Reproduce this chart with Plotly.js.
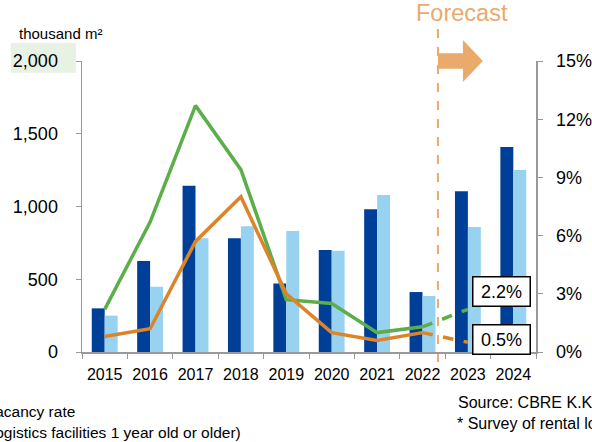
<!DOCTYPE html>
<html>
<head>
<meta charset="utf-8">
<script src="https://cdn.plot.ly/plotly-3.0.1.min.js"></script>
<style>
html,body{margin:0;padding:0;overflow:hidden;background:#fff;}
#chart{width:592px;height:442px;}
</style>
</head>
<body>
<div id="chart"></div>
<script>
// ---- data ----
const years = ['2015','2016','2017','2018','2019','2020','2021','2022','2023','2024'];
const newSupply = [300, 625, 1143, 781, 470, 701, 981, 412, 1104, 1409];
const netAbsorption = [250, 449, 781, 864, 832, 696, 1079, 385, 859, 1251];
const actualYears = ['2015','2016','2017','2018','2019','2020','2021','2022'];
const vacancyAll = [2.2, 6.7, 12.7, 9.4, 2.7, 2.5, 1.0, 1.3];
const vacancyOlder = [0.8, 1.2, 5.7, 8.0, 3.0, 1.0, 0.6, 1.0];
const forecastYears = ['2022','2023'];
const vacancyAllForecast = [1.3, 2.2];
const vacancyOlderForecast = [1.0, 0.5];
const leftTicks = [0, 500, 1000, 1500, 2000];
const leftTickText = ['0','500','1,000','1,500','2,000'];
const rightTicks = [0, 3, 6, 9, 12, 15];
const rightTickText = ['0%','3%','6%','9%','12%','15%'];

const FONT = 'Arial, "Liberation Sans", sans-serif';
const green = '#5BAE4A';
const orange = '#DE8428';
const fc = '#EAAA6C';

const traces = [
  {type:'bar', x: years, y: newSupply, name:'New supply', marker:{color:'#003F98'}, yaxis:'y'},
  {type:'bar', x: years, y: netAbsorption, name:'Net absorption', marker:{color:'#97D3F1'}, yaxis:'y'},
  {type:'scatter', mode:'lines', x: actualYears, y: vacancyAll, name:'Vacancy rate', line:{color:green, width:3.5}, yaxis:'y2'},
  {type:'scatter', mode:'lines', x: actualYears, y: vacancyOlder, name:'Vacancy rate (1 year old or older)', line:{color:orange, width:3.5}, yaxis:'y2'},
  {type:'scatter', mode:'lines', x: forecastYears, y: vacancyAllForecast, line:{color:green, width:3.5, dash:'dash'}, yaxis:'y2'},
  {type:'scatter', mode:'lines', x: forecastYears, y: vacancyOlderForecast, line:{color:orange, width:3.5, dash:'dash'}, yaxis:'y2'}
];

const layout = {
  width: 592, height: 442,
  margin: {l: 82, r: 56, t: 61, b: 90},
  paper_bgcolor: '#fff', plot_bgcolor: '#fff',
  showlegend: false,
  barmode: 'group', bargap: 0.43, bargroupgap: 0,
  font: {family: FONT, color: '#000'},
  xaxis: {
    type: 'category', range: [-0.5, 9.5],
    showline: true, linecolor: '#999', linewidth: 1.5,
    ticks: 'outside', tickson: 'boundaries', ticklen: 5, tickcolor: '#999', ticklabelstandoff: 7,
    tickfont: {size: 16, family: FONT, color: '#000'},
    showgrid: false, zeroline: false, fixedrange: true
  },
  yaxis: {
    range: [0, 2000], tickvals: leftTicks, ticktext: leftTickText,
    showline: true, linecolor: '#999', linewidth: 1.5,
    ticks: 'outside', ticklen: 5, tickcolor: '#999', ticklabelstandoff: 14,
    tickfont: {size: 18, family: FONT, color: '#000'},
    showgrid: false, zeroline: false
  },
  yaxis2: {
    range: [0, 15], tickvals: rightTicks, ticktext: rightTickText,
    overlaying: 'y', side: 'right',
    showline: true, linecolor: '#999', linewidth: 1.5,
    ticks: 'outside', ticklen: 5, tickcolor: '#999', ticklabelstandoff: 10,
    tickfont: {size: 18, family: FONT, color: '#000'},
    showgrid: false, zeroline: false
  },
  shapes: [
    {type:'rect', xref:'paper', yref:'paper', x0:-0.157, x1:-0.013, y0:0.960, y1:1.062,
     fillcolor:'#E7F2E4', line:{width:0}, layer:'below'},
    {type:'line', xref:'x', yref:'paper', x0:7.34, x1:7.34, y0:-0.034, y1:1.13,
     line:{color:fc, width:2, dash:'dash'}, layer:'below'},
    {type:'path', xref:'x', yref:'paper',
     path:'M 7.34 0.973 L 7.89 0.973 L 7.89 0.928 L 8.33 1.0 L 7.89 1.072 L 7.89 1.027 L 7.34 1.027 Z',
     fillcolor:fc, line:{width:0}}
  ],
  annotations: [
    {text:'thousand m²', xref:'paper', yref:'paper', x:-0.143, y:1.096, xanchor:'left', yanchor:'middle',
     showarrow:false, font:{size:15, family:FONT, color:'#000'}},
    {text:'Forecast', xref:'x', yref:'paper', x:6.82, y:1.166, xanchor:'left', yanchor:'middle',
     showarrow:false, font:{size:23.5, family:FONT, color:fc}},
    {text:'2.2%', xref:'x', yref:'y2', x:8.73, y:3.14, xanchor:'center', yanchor:'middle',
     showarrow:false, font:{size:18, family:FONT, color:'#000'},
     bgcolor:'#fff', bordercolor:'#000', borderwidth:1.5, borderpad:3, width:50, height:22},
    {text:'0.5%', xref:'x', yref:'y2', x:8.73, y:0.66, xanchor:'center', yanchor:'middle',
     showarrow:false, font:{size:18, family:FONT, color:'#000'},
     bgcolor:'#fff', bordercolor:'#000', borderwidth:1.5, borderpad:3, width:50, height:22},
    {text:'Vacancy rate', xref:'paper', yref:'paper', x:-0.011, y:-0.206, xanchor:'right', yanchor:'middle',
     showarrow:false, font:{size:15.5, family:FONT, color:'#000'}},
    {text:'Vacancy rate (logistics facilities 1 year old or older)', xref:'paper', yref:'paper', x:0.355, y:-0.275, xanchor:'right', yanchor:'middle',
     showarrow:false, font:{size:15.5, family:FONT, color:'#000'}},
    {text:'Source: CBRE K.K.', xref:'paper', yref:'paper', x:0.824, y:-0.172, xanchor:'left', yanchor:'middle',
     showarrow:false, font:{size:16, family:FONT, color:'#000'}},
    {text:'* Survey of rental logistics facilities', xref:'paper', yref:'paper', x:0.822, y:-0.244, xanchor:'left', yanchor:'middle',
     showarrow:false, font:{size:16, family:FONT, color:'#000'}}
  ]
};

Plotly.newPlot('chart', traces, layout, {displayModeBar:false, staticPlot:true});
</script>
</body>
</html>
